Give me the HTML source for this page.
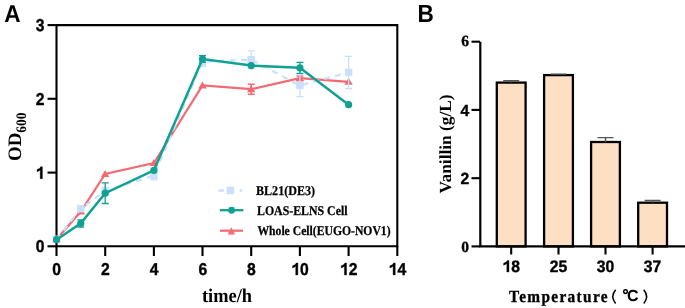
<!DOCTYPE html><html><head><meta charset="utf-8"><style>html,body{margin:0;padding:0;background:#fff;}svg{display:block;will-change:transform;filter:blur(0.3px);}text{text-rendering:geometricPrecision;}.sans{font-family:"Liberation Sans",sans-serif;font-weight:bold;}.dg{stroke:#000;stroke-width:0.35px;}.serif{font-family:"Liberation Serif",serif;font-weight:bold;}</style></head><body>
<svg width="685" height="308" viewBox="0 0 685 308">
<rect width="685" height="308" fill="#fff"/>
<text class="sans" transform="translate(4.2,22.3) scale(1,1.07)" font-size="22.6">A</text>
<text class="sans" transform="translate(417.6,21.8) scale(1,1.10)" font-size="22.6">B</text>
<path d="M56.5 25.1H397.3V246.3H56.5Z" fill="none" stroke="#000" stroke-width="2.1"/>
<path d="M47.5 246.3H56.5" stroke="#000" stroke-width="2.1"/>
<text class="sans dg" transform="translate(35.87,252.40) scale(1,1.090)" font-size="15.7">0</text>
<path d="M47.5 172.6H56.5" stroke="#000" stroke-width="2.1"/>
<path d="M568 0L849 0L849 1420L621 1420L575 1320L460 1215L150 1080L150 836L380 925L568 1040Z" transform="translate(35.87,178.65) scale(0.00767,-0.00836)" stroke="#000" stroke-width="45.7"/>
<path d="M47.5 98.8H56.5" stroke="#000" stroke-width="2.1"/>
<text class="sans dg" transform="translate(35.87,104.90) scale(1,1.090)" font-size="15.7">2</text>
<path d="M47.5 25.1H56.5" stroke="#000" stroke-width="2.1"/>
<text class="sans dg" transform="translate(35.87,31.15) scale(1,1.090)" font-size="15.7">3</text>
<path d="M56.5 246.3V256" stroke="#000" stroke-width="2.1"/>
<text class="sans dg" transform="translate(52.34,274.90) scale(1,1.090)" font-size="15.7">0</text>
<path d="M105.2 246.3V256" stroke="#000" stroke-width="2.1"/>
<text class="sans dg" transform="translate(101.02,274.90) scale(1,1.090)" font-size="15.7">2</text>
<path d="M153.9 246.3V256" stroke="#000" stroke-width="2.1"/>
<text class="sans dg" transform="translate(149.70,274.90) scale(1,1.090)" font-size="15.7">4</text>
<path d="M202.5 246.3V256" stroke="#000" stroke-width="2.1"/>
<text class="sans dg" transform="translate(198.38,274.90) scale(1,1.090)" font-size="15.7">6</text>
<path d="M251.2 246.3V256" stroke="#000" stroke-width="2.1"/>
<text class="sans dg" transform="translate(247.06,274.90) scale(1,1.090)" font-size="15.7">8</text>
<path d="M299.9 246.3V256" stroke="#000" stroke-width="2.1"/>
<path d="M568 0L849 0L849 1420L621 1420L575 1320L460 1215L150 1080L150 836L380 925L568 1040Z" transform="translate(291.37,274.90) scale(0.00767,-0.00836)" stroke="#000" stroke-width="45.7"/>
<text class="sans dg" transform="translate(300.10,274.90) scale(1,1.090)" font-size="15.7">0</text>
<path d="M348.6 246.3V256" stroke="#000" stroke-width="2.1"/>
<path d="M568 0L849 0L849 1420L621 1420L575 1320L460 1215L150 1080L150 836L380 925L568 1040Z" transform="translate(340.05,274.90) scale(0.00767,-0.00836)" stroke="#000" stroke-width="45.7"/>
<text class="sans dg" transform="translate(348.78,274.90) scale(1,1.090)" font-size="15.7">2</text>
<path d="M397.3 246.3V256" stroke="#000" stroke-width="2.1"/>
<path d="M568 0L849 0L849 1420L621 1420L575 1320L460 1215L150 1080L150 836L380 925L568 1040Z" transform="translate(388.73,274.90) scale(0.00767,-0.00836)" stroke="#000" stroke-width="45.7"/>
<text class="sans dg" transform="translate(397.46,274.90) scale(1,1.090)" font-size="15.7">4</text>
<polyline points="56.5,239.3 80.8,211.6 105.2,174.0 153.9,163.0 202.5,85.5 251.2,89.2 299.9,78.2 348.6,81.8" fill="none" stroke="#f36a73" stroke-width="2.2"/>
<path d="M56.5 235.3L60.7 242.3L52.3 242.3Z" fill="#f36a73"/>
<path d="M80.8 207.6L85.0 214.6L76.6 214.6Z" fill="#f36a73"/>
<path d="M105.2 170.0L109.4 177.0L101.0 177.0Z" fill="#f36a73"/>
<path d="M153.9 159.0L158.1 166.0L149.7 166.0Z" fill="#f36a73"/>
<path d="M202.5 81.5L206.7 88.5L198.3 88.5Z" fill="#f36a73"/>
<path d="M251.2 84.2V94.2M247.7 84.2h7M247.7 94.2h7" stroke="#f36a73" stroke-width="1.5" fill="none"/>
<path d="M251.2 85.2L255.4 92.2L247.0 92.2Z" fill="#f36a73"/>
<path d="M299.9 75.9V80.4M296.4 75.9h7M296.4 80.4h7" stroke="#f36a73" stroke-width="1.5" fill="none"/>
<path d="M299.9 74.2L304.1 81.2L295.7 81.2Z" fill="#f36a73"/>
<path d="M348.6 77.8L352.8 84.8L344.4 84.8Z" fill="#f36a73"/>
<polyline points="56.5,239.3 80.8,208.7 105.2,191.0 153.9,175.5 202.5,61.9 251.2,59.7 299.9,85.5 348.6,72.4" fill="none" stroke="#c9dffa" stroke-width="2.2" stroke-dasharray="6,5.3"/>
<rect x="52.8" y="235.6" width="7.4" height="7.4" fill="#c9dffa"/>
<path d="M80.8 206.5V210.9M77.3 206.5h7M77.3 210.9h7" stroke="#c9dffa" stroke-width="1.3" fill="none"/>
<rect x="77.1" y="205.0" width="7.4" height="7.4" fill="#c9dffa"/>
<path d="M105.2 187.3V194.7M101.7 187.3h7M101.7 194.7h7" stroke="#c9dffa" stroke-width="1.3" fill="none"/>
<rect x="101.5" y="187.3" width="7.4" height="7.4" fill="#c9dffa"/>
<path d="M153.9 171.1V179.9M150.4 171.1h7M150.4 179.9h7" stroke="#c9dffa" stroke-width="1.3" fill="none"/>
<rect x="150.2" y="171.8" width="7.4" height="7.4" fill="#c9dffa"/>
<path d="M202.5 57.5V66.4M199.0 57.5h7M199.0 66.4h7" stroke="#c9dffa" stroke-width="1.3" fill="none"/>
<rect x="198.8" y="58.2" width="7.4" height="7.4" fill="#c9dffa"/>
<path d="M251.2 50.9V68.6M247.7 50.9h7M247.7 68.6h7" stroke="#c9dffa" stroke-width="1.3" fill="none"/>
<rect x="247.5" y="56.0" width="7.4" height="7.4" fill="#c9dffa"/>
<path d="M299.9 74.5V96.6M296.4 74.5h7M296.4 96.6h7" stroke="#c9dffa" stroke-width="1.3" fill="none"/>
<rect x="296.2" y="81.8" width="7.4" height="7.4" fill="#c9dffa"/>
<path d="M348.6 56.3V88.5M345.1 56.3h7M345.1 88.5h7" stroke="#c9dffa" stroke-width="1.3" fill="none"/>
<rect x="344.9" y="68.7" width="7.4" height="7.4" fill="#c9dffa"/>
<polyline points="56.5,239.7 80.8,223.4 105.2,193.2 153.9,170.3 202.5,59.0 251.2,65.6 299.9,67.8 348.6,104.7" fill="none" stroke="#11a193" stroke-width="2.5"/>
<circle cx="56.5" cy="239.7" r="3.6" fill="#11a193"/>
<path d="M80.8 219.8V227.1M77.3 219.8h7M77.3 227.1h7" stroke="#11a193" stroke-width="1.3" fill="none"/>
<circle cx="80.8" cy="223.4" r="3.6" fill="#11a193"/>
<path d="M105.2 182.9V203.5M101.7 182.9h7M101.7 203.5h7" stroke="#11a193" stroke-width="1.3" fill="none"/>
<circle cx="105.2" cy="193.2" r="3.6" fill="#11a193"/>
<circle cx="153.9" cy="170.3" r="3.6" fill="#11a193"/>
<path d="M202.5 55.7V62.3M199.0 55.7h7M199.0 62.3h7" stroke="#11a193" stroke-width="1.3" fill="none"/>
<circle cx="202.5" cy="59.0" r="3.6" fill="#11a193"/>
<circle cx="251.2" cy="65.6" r="3.6" fill="#11a193"/>
<path d="M299.9 62.3V73.4M296.4 62.3h7M296.4 73.4h7" stroke="#11a193" stroke-width="1.3" fill="none"/>
<circle cx="299.9" cy="67.8" r="3.6" fill="#11a193"/>
<circle cx="348.6" cy="104.7" r="3.6" fill="#11a193"/>
<text class="serif" x="202" y="301.5" font-size="19.5" textLength="50" lengthAdjust="spacingAndGlyphs">time/h</text>
<text class="serif" transform="translate(21.2,161) rotate(-90)" font-size="19"><tspan textLength="28.3" lengthAdjust="spacingAndGlyphs">OD</tspan><tspan font-size="14.5" dx="0" dy="4.3" textLength="20" lengthAdjust="spacingAndGlyphs">600</tspan></text>
<path d="M218.5 190.4H223.8M239.6 190.4H242.2" stroke="#c9dffa" stroke-width="2.5"/>
<rect x="226.6" y="186.6" width="7.6" height="7.6" fill="#c9dffa"/>
<path d="M219.8 210.2H243.4" stroke="#11a193" stroke-width="2.3"/>
<circle cx="231.6" cy="210.2" r="3.45" fill="#11a193"/>
<path d="M220 230.7H243" stroke="#f36a73" stroke-width="2.2"/>
<path d="M231.3 227.3L235 234.4L227.6 234.4Z" fill="#f36a73"/>
<text class="serif" x="256" y="194.8" font-size="13.3" textLength="59" lengthAdjust="spacingAndGlyphs" stroke="#000" stroke-width="0.25">BL21(DE3)</text>
<text class="serif" x="257" y="214.6" font-size="13.3" textLength="90.5" lengthAdjust="spacingAndGlyphs" stroke="#000" stroke-width="0.25">LOAS-ELNS Cell</text>
<text class="serif" x="257.4" y="235.3" font-size="13.3" textLength="133.2" lengthAdjust="spacingAndGlyphs" stroke="#000" stroke-width="0.25">Whole Cell(EUGO-NOV1)</text>
<rect x="496.8" y="82.6" width="28.8" height="163.8" fill="#fddfc3" stroke="#000" stroke-width="2.3"/>
<path d="M511.2 82.6V80.7M503.2 80.7h16" stroke="#555" stroke-width="1.4" fill="none"/>
<path d="M511.2 246.4V254.5" stroke="#000" stroke-width="2.1"/>
<rect x="544.1" y="75.1" width="28.8" height="171.3" fill="#fddfc3" stroke="#000" stroke-width="2.3"/>
<path d="M558.5 75.1V74.1M550.5 74.1h16" stroke="#555" stroke-width="1.4" fill="none"/>
<path d="M558.5 246.4V254.5" stroke="#000" stroke-width="2.1"/>
<rect x="591.1" y="142.0" width="28.8" height="104.4" fill="#fddfc3" stroke="#000" stroke-width="2.3"/>
<path d="M605.5 142.0V137.6M597.5 137.6h16" stroke="#555" stroke-width="1.4" fill="none"/>
<path d="M605.5 246.4V254.5" stroke="#000" stroke-width="2.1"/>
<rect x="638.2" y="202.7" width="28.8" height="43.7" fill="#fddfc3" stroke="#000" stroke-width="2.3"/>
<path d="M652.6 202.7V200.5M644.6 200.5h16" stroke="#555" stroke-width="1.4" fill="none"/>
<path d="M652.6 246.4V254.5" stroke="#000" stroke-width="2.1"/>
<path d="M480.3 41.7V246.4H685" fill="none" stroke="#000" stroke-width="2.2"/>
<path d="M471.5 246.4H480" stroke="#000" stroke-width="2.1"/>
<text class="serif dg" transform="translate(461.25,251.60) scale(1,1.000)" font-size="15.5">0</text>
<path d="M471.5 178.2H480" stroke="#000" stroke-width="2.1"/>
<text class="sans dg" transform="translate(460.47,183.76) scale(1,1.030)" font-size="15.7">2</text>
<path d="M471.5 109.9H480" stroke="#000" stroke-width="2.1"/>
<text class="sans dg" transform="translate(460.47,115.52) scale(1,1.030)" font-size="15.7">4</text>
<path d="M471.5 41.7H480" stroke="#000" stroke-width="2.1"/>
<text class="serif dg" transform="translate(461.25,46.28) scale(1,1.000)" font-size="15.5">6</text>
<path d="M568 0L849 0L849 1420L621 1420L575 1320L460 1215L150 1080L150 836L380 925L568 1040Z" transform="translate(502.47,272.00) scale(0.00767,-0.00813)" stroke="#000" stroke-width="45.7"/>
<text class="sans dg" transform="translate(511.20,272.00) scale(1,1.060)" font-size="15.7">8</text>
<text class="sans dg" transform="translate(549.77,272.00) scale(1,1.060)" font-size="15.7">2</text>
<text class="sans dg" transform="translate(558.50,272.00) scale(1,1.060)" font-size="15.7">5</text>
<text class="sans dg" transform="translate(596.77,272.00) scale(1,1.060)" font-size="15.7">3</text>
<text class="sans dg" transform="translate(605.50,272.00) scale(1,1.060)" font-size="15.7">0</text>
<text class="sans dg" transform="translate(643.87,272.00) scale(1,1.060)" font-size="15.7">3</text>
<text class="sans dg" transform="translate(652.60,272.00) scale(1,1.060)" font-size="15.7">7</text>
<text class="serif" transform="translate(451,193.4) rotate(-90)" font-size="17" textLength="99" lengthAdjust="spacingAndGlyphs">Vanillin (g/L)</text>
<text class="serif" transform="translate(509,302) scale(0.9,1)" font-size="17" textLength="109.5" lengthAdjust="spacing" stroke="#000" stroke-width="0.35">Temperature</text>
<path d="M615.6 289.8Q610.0 296.6 615.6 303.4" fill="none" stroke="#000" stroke-width="1.5"/>
<circle cx="625.5" cy="291.6" r="1.85" fill="none" stroke="#000" stroke-width="1.4"/>
<text class="sans" x="627" y="301.4" font-size="16">C</text>
<path d="M643.8 289.8Q649.4 296.6 643.8 303.4" fill="none" stroke="#000" stroke-width="1.5"/>
</svg></body></html>
